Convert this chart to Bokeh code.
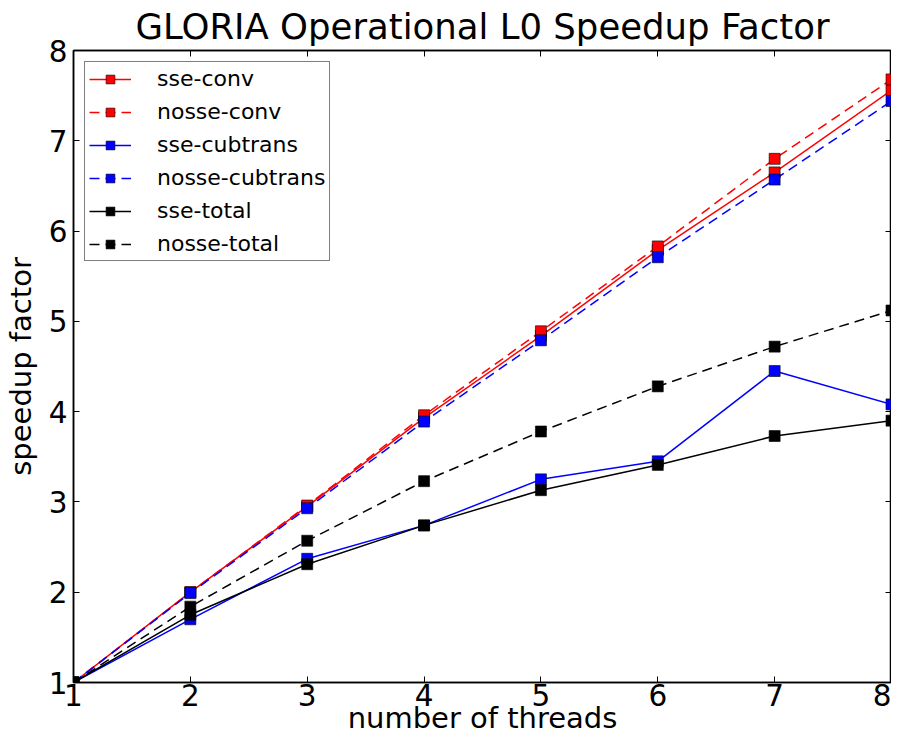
from bokeh.plotting import figure
from bokeh.models import Range1d, LinearAxis, FixedTicker, Legend, LegendItem, CustomLabelingPolicy
from bokeh.embed import file_html
from bokeh.resources import INLINE

threads = [1, 2, 3, 4, 5, 6, 7, 8]
sse_conv = [1.0, 2.00, 2.95, 3.93, 4.84, 5.79, 6.65, 7.56]
nosse_conv = [1.0, 2.00, 2.96, 3.96, 4.89, 5.83, 6.80, 7.68]
sse_cubtrans = [1.0, 1.70, 2.37, 2.74, 3.25, 3.45, 4.45, 4.08]
nosse_cubtrans = [1.0, 1.99, 2.93, 3.89, 4.79, 5.71, 6.57, 7.44]
sse_total = [1.0, 1.75, 2.31, 2.74, 3.13, 3.41, 3.73, 3.90]
nosse_total = [1.0, 1.84, 2.57, 3.23, 3.78, 4.28, 4.72, 5.12]

series = [
    ("sse-conv", sse_conv, "#ff0000", "solid"),
    ("nosse-conv", nosse_conv, "#ff0000", "10 6"),
    ("sse-cubtrans", sse_cubtrans, "#0000ff", "solid"),
    ("nosse-cubtrans", nosse_cubtrans, "#0000ff", "10 6"),
    ("sse-total", sse_total, "#000000", "solid"),
    ("nosse-total", nosse_total, "#000000", "10 6"),
]

x_ticks = [1, 2, 3, 4, 5, 6, 7, 8]
y_ticks = [1, 2, 3, 4, 5, 6, 7, 8]

FONT = "DejaVu Sans"

p = figure(width=891, height=737, output_backend="svg", toolbar_location=None,
           x_range=Range1d(1, 8), y_range=Range1d(1, 8),
           min_border_left=66, min_border_right=0, min_border_top=42, min_border_bottom=55,
           title="GLORIA Operational L0 Speedup Factor")
p.title.align = "center"
p.title.text_font = FONT
p.title.text_font_size = "35.5px"
p.title.text_font_style = "normal"
p.title.text_color = "black"
p.title.standoff = 7

p.grid.visible = False
p.outline_line_color = "black"
p.outline_line_width = 1.5
p.outline_line_alpha = 1.0

for ax in [p.xaxis[0], p.yaxis[0]]:
    ax.major_tick_in = 6
    ax.major_tick_out = 0
    ax.minor_tick_in = 0
    ax.minor_tick_out = 0
    ax.axis_line_color = "black"
    ax.axis_line_width = 1.5
    ax.major_tick_line_color = "black"
    ax.major_label_text_font = FONT
    ax.major_label_text_font_size = "29.5px"
    ax.major_label_text_color = "black"
    ax.axis_label_text_font = FONT
    ax.axis_label_text_font_size = "29px"
    ax.axis_label_text_font_style = "normal"
    ax.axis_label_text_color = "black"

p.xaxis[0].ticker = FixedTicker(ticks=x_ticks)
p.yaxis[0].ticker = FixedTicker(ticks=y_ticks)
p.xaxis[0].axis_label = "number of threads"
p.yaxis[0].axis_label = "speedup factor"
p.xaxis[0].major_label_standoff = 1
p.xaxis[0].axis_label_standoff = -8
p.yaxis[0].major_label_standoff = 6
p.yaxis[0].axis_label_standoff = 8

hide_all = CustomLabelingPolicy(code="for (const i of indices) indices.unset(i); return indices")
for loc, tk in [("above", x_ticks), ("right", y_ticks)]:
    ax = LinearAxis(ticker=FixedTicker(ticks=tk), major_label_policy=hide_all)
    ax.major_tick_in = 6
    ax.major_tick_out = 0
    ax.minor_tick_in = 0
    ax.minor_tick_out = 0
    ax.major_label_standoff = 0
    ax.axis_label_standoff = 0
    ax.major_label_text_color = None
    ax.axis_line_color = "black"
    ax.axis_line_width = 1.5
    p.add_layout(ax, loc)

items = []
for name, ys, color, dash in series:
    ln = p.line(threads, ys, line_color=color, line_width=1.5, line_dash=dash)
    sc = p.scatter(threads, ys, marker="square", size=11, fill_color=color,
                   line_color="black", line_width=0.6)
    items.append(LegendItem(label=name, renderers=[ln, sc]))

legend = Legend(items=items, location="top_left")
legend.margin = 11
legend.padding = 4
legend.spacing = 8
legend.glyph_width = 42
legend.glyph_height = 22
legend.label_height = 22
legend.label_standoff = 26
legend.label_text_font = FONT
legend.label_text_font_size = "22px"
legend.label_text_color = "black"
legend.border_line_color = "black"
legend.border_line_width = 1.2
legend.background_fill_alpha = 1.0
p.add_layout(legend, "center")

open("out.html", "w").write(file_html(p, INLINE))
